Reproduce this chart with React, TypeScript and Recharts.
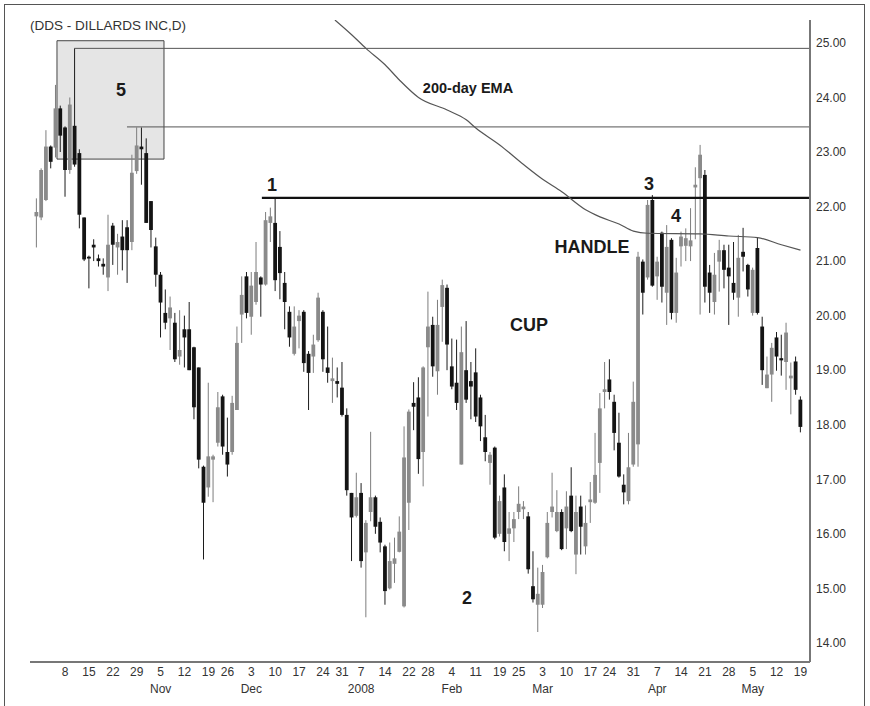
import React from "react"
import {
  Bar,
  ComposedChart,
  Line,
  ReferenceArea,
  ReferenceLine,
  XAxis,
  YAxis,
} from "recharts"

// daily candles, Sep 28 2007 .. May 19 2008
const opens = [
  21.82, 21.8, 22.12, 23.1, 23.08, 23.8, 23.45, 22.67, 23.48, 22.98,
  21.8, 21.08, 21.3, 21.05, 20.95, 20.7, 21.65, 21.25, 21.45, 21.62,
  21.35, 22.65, 23.1, 22.98, 22.1, 21.27, 20.75, 20.05, 19.95, 19.87,
  19.25, 19.75, 19.75, 19.42, 19.05, 17.23, 16.85, 17.36, 17.67, 18.52,
  17.5, 17.5, 18.27, 20.02, 20.72, 19.98, 20.25, 20.7, 20.57, 21.7,
  21.7, 21.26, 20.6, 20.07, 19.3, 19.9, 20.07, 19.3, 19.25, 19.55,
  20.07, 19.05, 18.8, 18.8, 18.68, 18.18, 16.75, 16.33, 16.75, 15.66,
  16.4, 16.67, 16.22, 15.77, 15.0, 15.45, 15.67, 14.67, 16.57, 18.4,
  18.5, 17.5, 19.42, 19.83, 18.98, 20.16, 20.51, 19.07, 18.77, 17.27,
  19.0, 18.8, 18.96, 18.5, 17.77, 17.3, 17.58, 16.0, 16.85, 16.0,
  16.1, 16.4, 16.45, 16.32, 15.04, 14.7, 14.7, 15.57, 16.4, 16.05,
  16.4, 16.1, 16.7, 15.62, 16.5, 15.77, 16.58, 16.57, 17.3, 18.6,
  18.83, 18.42, 17.67, 16.9, 16.6, 17.27, 17.64, 20.99, 20.7, 22.12,
  20.72, 21.52, 20.42, 21.39, 20.05, 21.27, 21.28, 21.27, 22.35, 22.52,
  22.58, 20.79, 20.25, 20.99, 21.2, 20.88, 20.6, 20.33, 21.17, 20.93,
  20.05, 21.24, 19.8, 18.67, 18.92, 19.6, 19.22, 19.15, 18.85, 19.16,
  18.46,
]
const highs = [
  22.15, 22.7, 23.4, 23.12, 24.23, 23.85, 23.47, 24.0, 24.9, 23.05,
  21.8, 21.1, 21.4, 21.12, 21.05, 21.85, 21.7, 21.5, 21.75, 21.75,
  22.95, 23.45, 23.45, 23.25, 22.1, 21.43, 20.8, 20.48, 20.35, 20.05,
  20.1, 20.0, 20.25, 19.43, 19.05, 17.25, 18.77, 17.45, 18.6, 18.55,
  18.13, 18.53, 19.8, 20.72, 20.8, 20.8, 21.35, 20.72, 21.9, 21.98,
  22.16, 21.55, 20.8, 20.17, 20.17, 20.1, 20.1, 19.35, 19.65, 20.42,
  20.1, 19.8, 19.23, 19.05, 19.15, 18.3, 16.75, 17.12, 16.93, 16.25,
  17.87, 16.7, 16.3, 15.8, 15.84, 15.93, 16.32, 17.97, 18.28, 18.78,
  18.87, 19.07, 20.44, 19.98, 20.29, 20.66, 20.57, 19.58, 19.56, 19.8,
  19.9, 19.15, 19.4, 18.55, 18.18, 17.5, 17.6, 16.7, 17.09, 16.4,
  16.4, 16.87, 16.6, 16.4, 15.68, 15.38, 15.43, 16.4, 17.12, 16.8,
  16.45, 16.78, 17.22, 16.7, 16.7, 16.52, 16.95, 17.85, 18.58, 19.15,
  19.2, 18.55, 18.22, 17.09, 17.85, 18.79, 21.17, 21.03, 22.12, 22.21,
  21.08, 21.54, 21.66, 21.42, 21.06, 21.54, 21.6, 21.97, 22.72, 23.13,
  22.67, 20.93, 21.15, 21.39, 21.3, 21.3, 21.35, 21.48, 21.61, 20.95,
  20.88, 21.44, 19.98, 19.25, 19.5, 19.7, 19.65, 19.87, 19.14, 19.25,
  18.52,
]
const lows = [
  21.25, 21.75, 22.1, 22.7, 22.9, 23.0, 22.18, 22.6, 22.73, 21.6,
  21.0, 20.5, 21.0, 20.9, 20.75, 20.45, 20.93, 20.75, 20.83, 20.6,
  21.2, 22.6, 22.4, 21.7, 21.25, 20.53, 19.6, 19.75, 19.37, 19.15,
  19.1, 19.05, 19.0, 18.1, 17.2, 15.53, 16.68, 16.58, 17.6, 17.45,
  17.05, 17.45, 18.27, 19.5, 19.95, 19.65, 20.2, 19.98, 20.55, 21.35,
  20.45, 20.3, 19.75, 19.43, 19.27, 19.4, 18.97, 18.27, 18.95, 19.52,
  18.97, 18.77, 18.4, 18.5, 18.15, 16.7, 15.5, 16.3, 15.38, 14.47,
  16.23, 16.0, 15.66, 14.7, 14.98, 15.1, 15.66, 14.65, 16.07, 17.9,
  17.1, 16.87, 18.15, 18.88, 18.55, 19.52, 19.0, 18.65, 18.27, 17.27,
  18.4, 18.1, 18.05, 17.7, 17.33, 16.9, 15.9, 15.95, 15.68, 15.5,
  15.85, 16.27, 16.27, 15.27, 14.74, 14.2, 14.64, 15.55, 16.3, 16.03,
  15.7, 15.72, 16.03, 15.26, 15.62, 15.62, 16.2, 16.55, 16.75, 18.3,
  18.46, 17.53, 17.03, 16.54, 16.54, 17.23, 17.23, 20.02, 20.66, 20.53,
  20.29, 20.24, 19.83, 19.93, 19.87, 20.9, 21.0, 21.0, 21.4, 20.02,
  20.24, 20.05, 20.02, 20.44, 20.5, 19.83, 20.29, 19.98, 20.81, 20.35,
  20.0, 20.02, 18.73, 18.67, 18.42, 18.99, 18.9, 18.64, 18.19, 18.55,
  17.86,
]
const closes = [
  21.9, 22.67, 23.1, 22.82, 23.8, 23.3, 22.67, 23.87, 22.77, 21.85,
  21.03, 21.05, 21.25, 21.0, 20.9, 21.3, 21.3, 21.35, 21.2, 21.2,
  22.62, 23.12, 23.05, 21.7, 21.57, 20.75, 20.24, 19.87, 20.15, 19.2,
  19.37, 19.6, 19.0, 18.32, 17.36, 16.57, 17.42, 17.42, 18.32, 17.6,
  17.27, 18.4, 19.5, 20.38, 20.05, 20.55, 20.8, 20.57, 21.75, 21.82,
  20.65, 20.78, 20.25, 19.6, 19.8, 20.0, 19.13, 18.95, 19.47, 20.33,
  19.2, 18.95, 18.85, 18.75, 18.18, 16.8, 16.3, 16.67, 15.5, 16.2,
  16.67, 16.13, 15.84, 14.95, 15.5, 15.55, 16.04, 17.4, 18.24, 18.33,
  17.37, 19.05, 19.8, 19.07, 19.83, 20.56, 19.47, 18.7, 18.4, 19.33,
  18.46, 18.7, 18.15, 17.97, 17.5, 17.45, 15.93, 16.6, 15.85, 16.1,
  16.27, 16.55, 16.5, 15.35, 14.8, 14.9, 15.3, 16.2, 16.5, 16.4,
  15.72, 16.5, 16.05, 16.4, 16.13, 16.2, 16.63, 17.08, 18.3, 18.65,
  18.6, 17.85, 17.05, 16.76, 17.22, 18.42, 21.08, 20.42, 22.03, 20.55,
  20.99, 20.53, 21.26, 20.05, 20.79, 21.45, 21.42, 21.38, 22.4, 22.95,
  20.53, 20.42, 20.75, 21.2, 20.84, 20.72, 20.42, 21.06, 21.08, 20.48,
  20.84, 20.05, 19.0, 18.92, 19.41, 19.25, 19.18, 19.69, 18.9, 18.64,
  17.96,
]

// 200-day EMA, read at a few bars (bar index, value)
const emaIdx = [62.5, 66, 69, 73, 76, 80, 86, 90, 92, 97, 102, 106, 110, 115, 118, 122, 125, 128, 139, 145, 151, 156, 160]
const emaVal = [25.42, 25.15, 24.9, 24.6, 24.32, 24.0, 23.77, 23.59, 23.44, 23.13, 22.77, 22.5, 22.27, 21.94, 21.81, 21.68, 21.55, 21.51, 21.5, 21.46, 21.43, 21.3, 21.2]

const firstDay = "2007-09-28"
const lastDay = "2008-05-19"
const holidays = ["2007-11-22", "2007-12-25", "2008-01-01", "2008-01-21", "2008-02-18", "2008-03-21"]
const weekTicks = [
  "2007-10-08", "2007-10-15", "2007-10-22", "2007-10-29", "2007-11-05", "2007-11-12",
  "2007-11-19", "2007-11-26", "2007-12-03", "2007-12-10", "2007-12-17", "2007-12-24",
  "2007-12-31", "2008-01-07", "2008-01-14", "2008-01-22", "2008-01-28", "2008-02-04",
  "2008-02-11", "2008-02-19", "2008-02-25", "2008-03-03", "2008-03-10", "2008-03-17",
  "2008-03-24", "2008-03-31", "2008-04-07", "2008-04-14", "2008-04-21", "2008-04-28",
  "2008-05-05", "2008-05-12", "2008-05-19",
]
const monthTicks = ["2007-11-05", "2007-12-03", "2008-01-07", "2008-02-04", "2008-03-03", "2008-04-07", "2008-05-05"]
const monthNames = ["Nov", "Dec", "2008", "Feb", "Mar", "Apr", "May"]
const priceTicks = [14, 15, 16, 17, 18, 19, 20, 21, 22, 23, 24, 25]

// annotation levels
const topLevel = 24.9
const midLevel = 23.46
const breakLevel = 22.16
const boxLow = 22.87
const boxHigh = 25.04

const fmt = (d: Date) => d.toISOString().slice(0, 10)
const days: string[] = []
for (let t = Date.parse(firstDay + "T00:00:00Z"); t <= Date.parse(lastDay + "T00:00:00Z"); t += 86400000) {
  const d = new Date(t)
  const wd = d.getUTCDay()
  if (wd === 0 || wd === 6) continue
  if (holidays.includes(fmt(d))) continue
  days.push(fmt(d))
}

const data = days.map((d, i) => ({ i, d, o: opens[i], h: highs[i], l: lows[i], c: closes[i] }))
const emaData = emaIdx.map((i, k) => ({ i, v: emaVal[k] }))
const tickIdx = weekTicks.map((d) => days.indexOf(d))

const XMIN = -1.361
const XMAX = 161.99
const font = "'Liberation Sans', Arial, Helvetica, sans-serif"
const narrow = "'Liberation Sans Narrow', 'Liberation Sans', Arial, sans-serif"

const Candle = (props: any) => {
  const { x, y, width, height, payload } = props
  if (payload == null || x == null) return null
  const { o, h, l, c } = payload
  const top = Math.min(y, y + height)
  const full = Math.abs(height)
  const span = h - l
  const toY = (v: number) => (span === 0 ? top : top + ((h - v) / span) * full)
  const cx = x + width / 2
  const up = c >= o
  const b1 = toY(Math.max(o, c))
  const b2 = toY(Math.min(o, c))
  const bw = 3.8
  return (
    <g>
      <line x1={cx} x2={cx} y1={top} y2={top + full} stroke={up ? "#7d7d7d" : "#1c1c1c"} strokeWidth={1} />
      <rect x={cx - bw / 2} y={b1} width={bw} height={Math.max(b2 - b1, 1.8)} fill={up ? "#8a8a8a" : "#141414"} />
    </g>
  )
}

const DateTick = (props: any) => {
  const { x, y, payload } = props
  const d = days[payload.value]
  const m = monthTicks.indexOf(d)
  return (
    <g>
      <text x={x} y={y + 6} textAnchor="middle" fontSize={12} fill="#333" fontFamily={narrow}>
        {String(Number(d.slice(8)))}
      </text>
      {m >= 0 && (
        <text x={x} y={y + 23} textAnchor="middle" fontSize={12} fill="#333" fontFamily={narrow}>
          {monthNames[m]}
        </text>
      )}
    </g>
  )
}

const Note = ({ x, y, size, children }: any) => (
  <text x={x} y={y} textAnchor="middle" dominantBaseline="central" fontSize={size} fontWeight="bold" fill="#1a1a1a" fontFamily={font}>
    {children}
  </text>
)

export default function App() {
  return (
    <div style={{ position: "absolute", left: 0, top: 0, width: 870, height: 706, background: "#fff", overflow: "hidden" }}>
      <div style={{ position: "absolute", left: 4, top: 4, width: 861, height: 710, border: "1px solid #555", boxSizing: "border-box" }} />
      <ComposedChart width={870} height={706} data={data} margin={{ top: 20, right: 0, bottom: 0, left: 30 }}>
        <XAxis
          dataKey="i"
          type="number"
          domain={[XMIN, XMAX]}
          allowDataOverflow
          ticks={tickIdx}
          interval={0}
          tick={<DateTick />}
          tickLine={false}
          axisLine={{ stroke: "#777", strokeWidth: 2 }}
          height={44}
        />
        <YAxis
          orientation="right"
          domain={[13.65, 25.42]}
          allowDataOverflow
          ticks={priceTicks}
          tickFormatter={(v: number) => v.toFixed(2)}
          tickLine={false}
          axisLine={{ stroke: "#777", strokeWidth: 2 }}
          tick={{ fontSize: 12, fill: "#333", fontFamily: font }}
          tickMargin={0}
          width={60}
        />
        <ReferenceArea x1={4.29} x2={26.7} y1={boxLow} y2={boxHigh} fill="#d4d4d4" fillOpacity={0.6} stroke="#444" strokeWidth={1} ifOverflow="visible" />
        <ReferenceLine segment={[{ x: 7.9, y: topLevel }, { x: XMAX, y: topLevel }]} stroke="#555" strokeWidth={1} />
        <ReferenceLine segment={[{ x: 18.95, y: midLevel }, { x: XMAX, y: midLevel }]} stroke="#555" strokeWidth={1} />
        <ReferenceLine segment={[{ x: 47.2, y: breakLevel }, { x: XMAX, y: breakLevel }]} stroke="#111" strokeWidth={2.2} />
        <Bar dataKey={(d: any) => [d.l, d.h]} barSize={4} shape={<Candle />} isAnimationActive={false} />
        <Line data={emaData} dataKey="v" type="monotone" dot={false} stroke="#555" strokeWidth={1.2} isAnimationActive={false} />
      </ComposedChart>
      <svg width={870} height={706} style={{ position: "absolute", left: 0, top: 0, pointerEvents: "none" }}>
        <text x={30} y={30} fontSize={13.5} fill="#333" fontFamily={font}>(DDS - DILLARDS INC,D)</text>
        <Note x={121} y={90} size={18}>5</Note>
        <Note x={272} y={185} size={18}>1</Note>
        <Note x={467} y={598} size={18}>2</Note>
        <Note x={649} y={184} size={18}>3</Note>
        <Note x={676} y={216} size={18}>4</Note>
        <Note x={468} y={88} size={14.5}>200-day EMA</Note>
        <Note x={529} y={325} size={18}>CUP</Note>
        <Note x={592} y={247} size={18}>HANDLE</Note>
      </svg>
    </div>
  )
}
